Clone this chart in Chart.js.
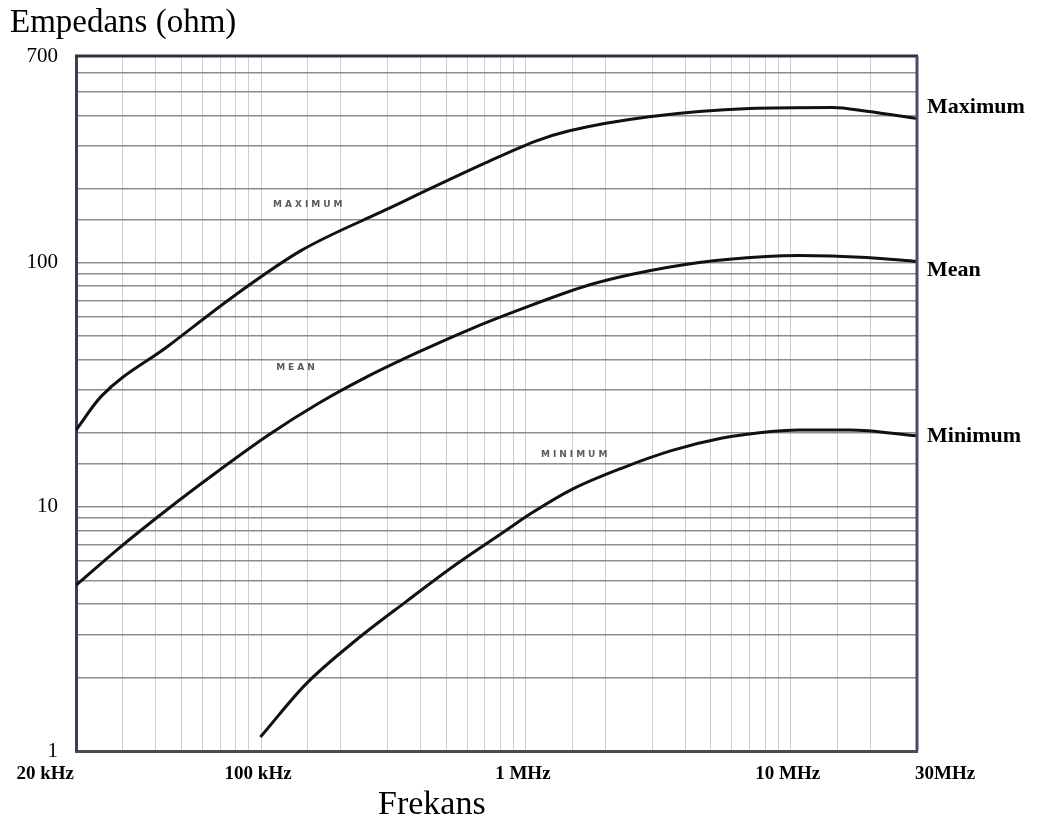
<!DOCTYPE html>
<html>
<head>
<meta charset="utf-8">
<script src="https://cdn.jsdelivr.net/npm/chart.js@4/dist/chart.umd.min.js"></script>
<style>
  html, body { margin: 0; padding: 0; background: #ffffff; }
  #wrap { width: 1046px; height: 823px; }
</style>
</head>
<body>
<div id="wrap"><canvas id="c" width="1046" height="823"></canvas></div>
<script>
// ---- data ----
const xTickValues = [20000, 100000, 1000000, 10000000, 30000000];
const xTickLabels = ['20 kHz', '100 kHz', '1 MHz', '10 MHz', '30MHz'];
const yTickValues = [1, 10, 100, 700];
const yTickLabels = ['1', '10', '100', '700'];

const seriesNames = ['Maximum', 'Mean', 'Minimum'];

const maxFreq = [20000, 24900, 44600, 80000, 142000, 295000, 707000, 1090000, 1460000, 2920000, 7000000, 14400000, 19400000, 30000000];
const maxImp  = [20.6, 28.3, 45.5, 73.6, 112, 164, 256, 314, 346, 395, 427, 431, 416, 388];

const meanFreq = [20000, 28800, 44600, 68900, 107000, 165000, 255000, 394000, 609000, 942000, 1730000, 2520000, 4520000, 8100000, 10800000, 19400000, 30000000];
const meanImp  = [4.77, 6.71, 9.81, 14.0, 19.7, 26.5, 34.3, 43.0, 53.0, 63.9, 80.8, 89.5, 100, 105.7, 106.7, 104.7, 100.9];

const minFreq = [99400, 147000, 228000, 352000, 544000, 841000, 1055000, 1500000, 2310000, 3570000, 5520000, 7620000, 10800000, 16700000, 30000000];
const minImp  = [1.14, 1.87, 2.84, 4.08, 5.80, 8.00, 9.44, 11.8, 14.4, 17.0, 19.1, 20.1, 20.6, 20.6, 19.5];

// end-of-curve label anchors (impedance) and small in-plot notes
const endLabelImp = [431, 92.9, 19.5];
const noteLabels = ['MAXIMUM', 'MEAN', 'MINIMUM'];
const noteFreq = [111000, 114000, 1140000];
const noteImp = [172, 37, 16.4];

const titleText = 'Empedans (ohm)';
const xTitleText = 'Frekans';

function pts(fs, vs) { return fs.map((f, i) => ({ x: f, y: vs[i] })); }

const serif = '"Liberation Serif", "DejaVu Serif", serif';

const deco = {
  id: 'deco',
  afterDraw(chart) {
    const { ctx, chartArea: a, scales: { x, y } } = chart;
    ctx.save();
    // top and right frame
    ctx.lineWidth = 3;
    ctx.strokeStyle = '#2e2e3c';
    ctx.beginPath(); ctx.moveTo(a.left - 1, a.top); ctx.lineTo(a.right + 1, a.top); ctx.stroke();
    ctx.strokeStyle = '#4b4b6a';
    ctx.beginPath(); ctx.moveTo(a.right, a.top); ctx.lineTo(a.right, a.bottom); ctx.stroke();

    // title
    ctx.fillStyle = '#000';
    ctx.font = '33px ' + serif;
    ctx.textAlign = 'left'; ctx.textBaseline = 'alphabetic';
    ctx.fillText(titleText, 10, 32);

    // x axis title
    ctx.font = '34px ' + serif;
    ctx.fillText(xTitleText, 378, 814);

    // x tick labels
    ctx.font = 'bold 19px ' + serif;
    ctx.textBaseline = 'middle';
    xTickValues.forEach((v, i) => {
      const px = x.getPixelForValue(v);
      if (i === 0) { ctx.textAlign = 'right'; ctx.fillText(xTickLabels[i], px - 2, 774); }
      else if (i === xTickValues.length - 1) { ctx.textAlign = 'left'; ctx.fillText(xTickLabels[i], px - 2, 774); }
      else { ctx.textAlign = 'center'; ctx.fillText(xTickLabels[i], px - 3, 774); }
    });

    // series end labels
    ctx.font = 'bold 22px ' + serif;
    ctx.textAlign = 'left';
    seriesNames.forEach((n, i) => {
      ctx.fillText(n, a.right + 10, y.getPixelForValue(endLabelImp[i]));
    });

    // small in-plot notes
    ctx.font = 'bold 9px "DejaVu Sans", sans-serif';
    ctx.fillStyle = '#5a5a5a';
    if ('letterSpacing' in ctx) ctx.letterSpacing = '3px';
    noteLabels.forEach((n, i) => {
      ctx.fillText(n, x.getPixelForValue(noteFreq[i]), y.getPixelForValue(noteImp[i]));
    });
    ctx.restore();
  }
};

const lineStyle = {
  borderColor: '#111111',
  borderWidth: 3,
  pointRadius: 0,
  fill: false,
  cubicInterpolationMode: 'monotone'
};

new Chart(document.getElementById('c'), {
  type: 'line',
  data: {
    datasets: [
      Object.assign({ label: seriesNames[0], data: pts(maxFreq, maxImp) }, lineStyle),
      Object.assign({ label: seriesNames[1], data: pts(meanFreq, meanImp) }, lineStyle),
      Object.assign({ label: seriesNames[2], data: pts(minFreq, minImp) }, lineStyle)
    ]
  },
  options: {
    responsive: false,
    animation: false,
    layout: { padding: { top: 56, right: 129, left: 0, bottom: 0 } },
    plugins: { legend: { display: false }, tooltip: { enabled: false }, title: { display: false } },
    scales: {
      x: {
        type: 'logarithmic',
        min: 20000,
        max: 30000000,
        afterFit(s) { s.height = 72; },
        border: { display: true, color: '#4a4a55', width: 3 },
        grid: { color: '#cdcdcd', lineWidth: 1, drawTicks: false },
        ticks: { display: false, autoSkip: false }
      },
      y: {
        type: 'logarithmic',
        min: 1,
        max: 700,
        afterFit(s) { s.width = 76; },
        border: { display: true, color: '#3c3c58', width: 3 },
        grid: { color: '#8e8e8e', lineWidth: 1.5, drawTicks: false },
        ticks: {
          autoSkip: false,
          padding: 18,
          color: '#000',
          font: { family: serif, size: 21 },
          callback(v) {
            const k = yTickValues.indexOf(Number(v));
            return k >= 0 ? yTickLabels[k] : '';
          }
        }
      }
    }
  },
  plugins: [deco]
});
</script>
</body>
</html>
